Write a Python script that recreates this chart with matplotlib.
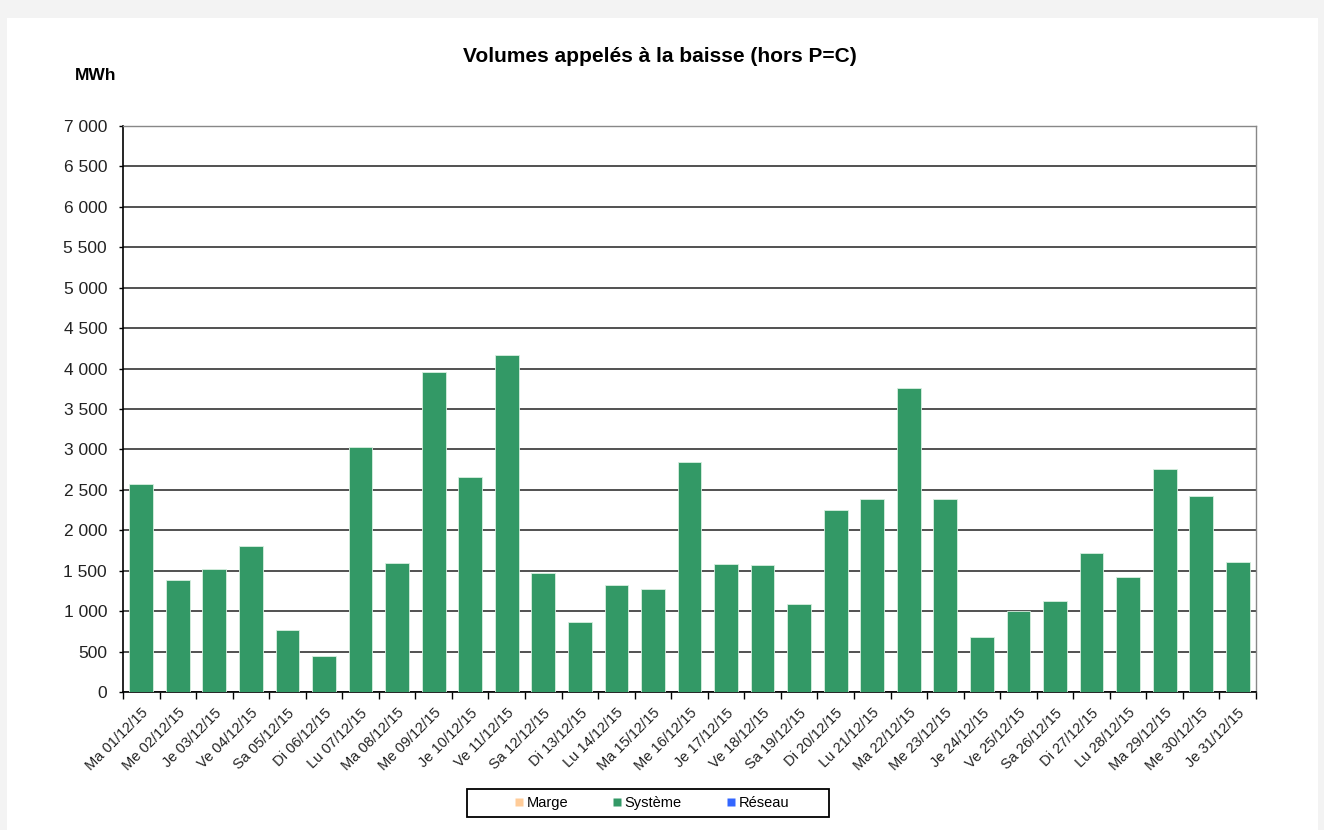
import matplotlib.pyplot as plt
import numpy as np
from matplotlib.lines import Line2D
from matplotlib.patches import Rectangle
from matplotlib.ticker import FuncFormatter, FixedLocator

plt.rcParams['font.family'] = ['Liberation Sans', 'DejaVu Sans']

# jours de décembre 2015
jours = ['Ma', 'Me', 'Je', 'Ve', 'Sa', 'Di', 'Lu'] * 5
dates = ['%s %02d/12/15' % (jours[i], i + 1) for i in range(31)]

# volumes (MWh)
systeme = [2570, 1380, 1525, 1800, 765, 450, 3030, 1600, 3955, 2660, 4165,
           1470, 860, 1320, 1270, 2845, 1585, 1567, 1085, 2250, 2385, 3755,
           2385, 676, 1006, 1121, 1715, 1418, 2755, 2420, 1605]
marge = [0] * 31
reseau = [0] * 31

c_marge = '#ffcc99'
c_sys = '#339966'
c_res = '#3366ff'

fig = plt.figure(figsize=(13.24, 8.30), dpi=100, facecolor='#f3f3f3')
fig.patches.append(Rectangle((7 / 1324, 0), 1311 / 1324, 812 / 830,
                             transform=fig.transFigure, facecolor='white',
                             edgecolor='none', zorder=-1))

ax = fig.add_axes([123 / 1324, 1 - 692 / 830, 1133 / 1324, 566 / 830])
x = np.arange(len(dates))
ax.bar(x, marge, width=0.65, color=c_marge)
ax.bar(x, systeme, width=0.65, color=c_sys, edgecolor='#d8efe0', linewidth=0.6,
       bottom=marge, zorder=3)
ax.bar(x, reseau, width=0.65, color=c_res,
       bottom=np.array(marge) + np.array(systeme))

ax.set_xlim(-0.5, len(dates) - 0.5)
ax.set_ylim(0, 7000)
ax.set_yticks(np.arange(0, 7001, 500))
ax.yaxis.set_major_formatter(FuncFormatter(lambda v, p: ('%d' % v) if v < 1000 else '%d %03d' % (v // 1000, v % 1000)))
ax.yaxis.grid(True, color='#222222', linewidth=1.1, zorder=0)
ax.set_axisbelow(True)

ax.xaxis.set_major_locator(FixedLocator(np.arange(-0.5, len(dates), 1)))
ax.xaxis.set_major_formatter(FuncFormatter(lambda v, p: ''))
ax.xaxis.set_minor_locator(FixedLocator(x))
ax.set_xticklabels(dates, minor=True, rotation=45, ha='right',
                   rotation_mode='anchor', fontsize=10.5, color='#222222')
ax.tick_params(axis='x', which='major', length=5, width=1, direction='out')
ax.tick_params(axis='x', which='minor', length=0, pad=10)
ax.tick_params(axis='y', length=3, width=1, labelsize=12.5, labelcolor='#222222', pad=8.5)

for s in ['left', 'bottom']:
    ax.spines[s].set_color('black')
    ax.spines[s].set_linewidth(1.2)
for s in ['top', 'right']:
    ax.spines[s].set_color('#888888')
    ax.spines[s].set_linewidth(1)

fig.text(660 / 1324, 1 - 57 / 830, 'Volumes appelés à la baisse (hors P=C)',
         ha='center', va='center', fontsize=15, fontweight='bold')
fig.text(75 / 1324, 1 - 75 / 830, 'MWh', ha='left', va='center',
         fontsize=12.5, fontweight='bold')

# cadre de la légende
fig.patches.append(Rectangle((467 / 1324, 1 - 817 / 830), 362 / 1324, 28 / 830,
                             transform=fig.transFigure, facecolor='white',
                             edgecolor='black', linewidth=1.3))
handles = [Line2D([], [], marker='s', color='none', markerfacecolor=c, markeredgecolor='none', markersize=6)
           for c in (c_marge, c_sys, c_res)]
fig.legend(handles, ['Marge', 'Système', 'Réseau'], ncol=3,
           loc='center', bbox_to_anchor=(652 / 1324, 1 - 803 / 830),
           fontsize=10.5, frameon=False,
           handlelength=0.6, handletextpad=0.2, columnspacing=3.1,
           borderpad=0, borderaxespad=0)

fig.savefig('out.png', dpi=100, facecolor=fig.get_facecolor())
